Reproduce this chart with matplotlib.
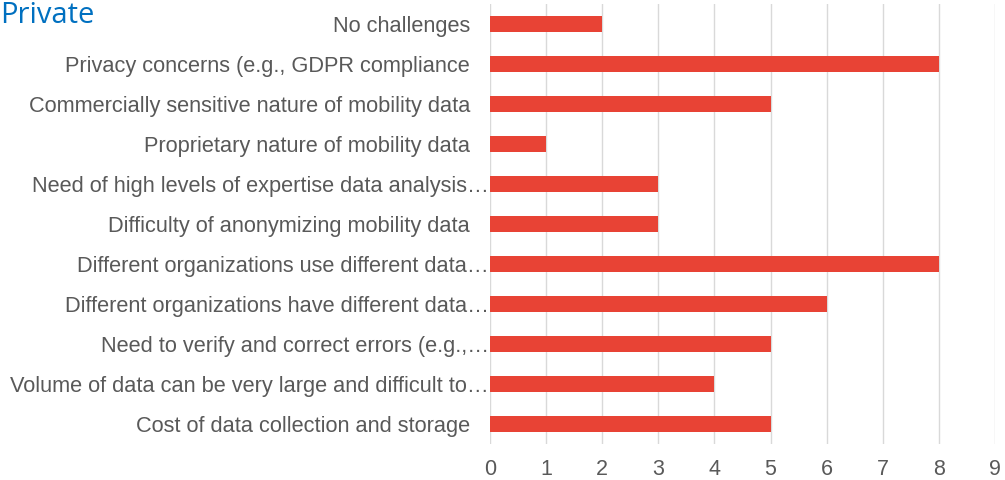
import matplotlib
matplotlib.use("Agg")
import matplotlib.pyplot as plt
import matplotlib.transforms as mtransforms

categories = [
    "No challenges",
    "Privacy concerns (e.g., GDPR compliance",
    "Commercially sensitive nature of mobility data",
    "Proprietary nature of mobility data",
    "Need of high levels of expertise data analysis…",
    "Difficulty of anonymizing mobility data",
    "Different organizations use different data…",
    "Different organizations have different data…",
    "Need to verify and correct errors (e.g.,…",
    "Volume of data can be very large and difficult to…",
    "Cost of data collection and storage",
]
values = [2, 8, 5, 1, 3, 3, 8, 6, 5, 4, 5]
x_ticks = list(range(0, 10))
title = "Private"

fig = plt.figure(figsize=(10.05, 4.81), dpi=100)
ax = fig.add_axes([0.4876, 0.0748, 0.5025, 0.9148])

ypos = list(range(len(categories)))
ax.barh(ypos, values, height=0.4, color="#E84335", zorder=3)
ax.set_ylim(len(categories) - 0.5, -0.5)
ax.set_xlim(0, 9)
ax.set_xticks(x_ticks)
ax.set_yticks(ypos)
ax.set_yticklabels([])
ax.grid(axis="x", color="#D9D9D9", linewidth=1.0, zorder=0)
for s in ax.spines.values():
    s.set_visible(False)
ax.tick_params(axis="both", length=0, colors="#595959", labelsize=15.5)
ax.tick_params(axis="x", pad=10)
for lab in ax.get_xticklabels():
    lab.set_fontfamily("Liberation Sans")
    lab.set_color("#595959")

base = mtransforms.blended_transform_factory(ax.transAxes, ax.transData)
for y, lab in zip(ypos, categories):
    off = -1 if lab.endswith("…") else -20
    tr = base + mtransforms.ScaledTranslation(off / 100, -0.01, fig.dpi_scale_trans)
    ax.text(0, y, lab, transform=tr, ha="right", va="center", fontsize=15.7,
            fontfamily="Liberation Sans", color="#595959")

fig.text(0.0, 0.997, title, ha="left", va="top", color="#0070C0",
         fontsize=21, fontfamily="Open Sans")

fig.savefig("out.png", dpi=100)
